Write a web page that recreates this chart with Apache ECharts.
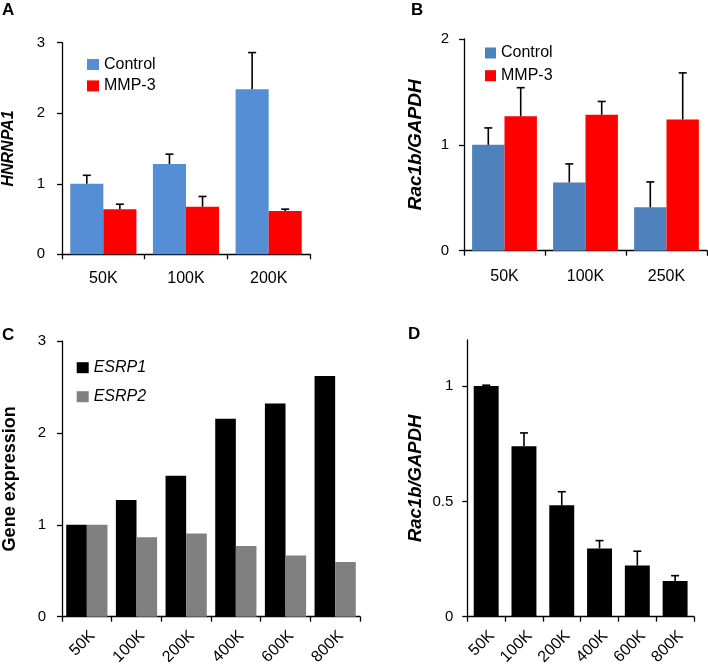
<!DOCTYPE html>
<html><head><meta charset="utf-8">
<script src="https://cdn.jsdelivr.net/npm/echarts@6/dist/echarts.min.js"></script>
<style>html,body{margin:0;padding:0;background:#fff}#c{width:708px;height:669px}</style>
</head><body><div id="c"></div>
<script>
// ---- Data ----
const catsA = ['50K', '100K', '200K'];
const ctrlA = [1.0, 1.28, 2.34];
const ctrlAErr = [1.12, 1.42, 2.86];
const mmpA = [0.64, 0.675, 0.615];
const mmpAErr = [0.71, 0.82, 0.64];
const yTicksA = [0, 1, 2, 3];

const catsB = ['50K', '100K', '250K'];
const ctrlB = [1.0, 0.645, 0.41];
const ctrlBErr = [1.16, 0.82, 0.65];
const mmpB = [1.27, 1.285, 1.24];
const mmpBErr = [1.54, 1.41, 1.68];
const yTicksB = [0, 1, 2];

const catsC = ['50K', '100K', '200K', '400K', '600K', '800K'];
const esrp1 = [1.0, 1.27, 1.535, 2.155, 2.32, 2.62];
const esrp2 = [1.0, 0.865, 0.905, 0.77, 0.665, 0.595];
const yTicksC = [0, 1, 2, 3];

const catsD = ['50K', '100K', '200K', '400K', '600K', '800K'];
const rac1bD = [1.0, 0.739, 0.483, 0.296, 0.222, 0.155];
const rac1bDErr = [1.004, 0.797, 0.542, 0.330, 0.284, 0.178];
const yTicksD = [0, 0.5, 1];
const yMaxD = 1.2;

// ---- Styles ----
const FF = '"Liberation Sans", Arial, sans-serif';
const axisLine = { show: true, lineStyle: { color: '#000', width: 1.3 } };
const axisTick = { show: true, length: 5, lineStyle: { color: '#000', width: 1.3 } };

function errSeries(idx, vals, errs, offsetFrac) {
  return {
    type: 'custom', xAxisIndex: idx, yAxisIndex: idx, z: 10, silent: true,
    data: vals.map((v, i) => [i, v, errs[i]]),
    encode: { x: 0, y: [1, 2] },
    renderItem: (params, api) => {
      const i = api.value(0);
      const base = api.coord([i, api.value(1)]);
      const top = api.coord([i, api.value(2)]);
      const cw = api.size([1, 0])[0];
      const x = base[0] + cw * offsetFrac;
      const hw = 4;
      const st = { stroke: '#000', lineWidth: 1.6 };
      return { type: 'group', children: [
        { type: 'line', shape: { x1: x, y1: base[1], x2: x, y2: top[1] }, style: st },
        { type: 'line', shape: { x1: x - hw, y1: top[1], x2: x + hw, y2: top[1] }, style: st }
      ] };
    }
  };
}

function xAx(idx, cats, extra) {
  return Object.assign({
    type: 'category', gridIndex: idx, data: cats,
    axisLine, axisTick,
    axisLabel: { fontFamily: FF, fontSize: 16, color: '#000', margin: 16 }
  }, extra || {});
}
function yAx(idx, ticks, name, nameStyle, nameGap, margin, extra) {
  return Object.assign({
    type: 'value', gridIndex: idx,
    min: ticks[0], max: ticks[ticks.length - 1], interval: ticks[1] - ticks[0],
    axisLine, axisTick, splitLine: { show: false },
    axisLabel: { fontFamily: FF, fontSize: 15, color: '#000', margin: margin },
    name: name, nameLocation: 'middle', nameRotate: 90, nameGap: nameGap,
    nameTextStyle: Object.assign({ fontFamily: FF, color: '#000', fontWeight: 'bold' }, nameStyle)
  }, extra || {});
}

const legendText = { fontFamily: FF, fontSize: 16, color: '#000' };
const rotLabel = { fontFamily: FF, fontSize: 16, color: '#000', margin: 11, rotate: 45, interval: 0, verticalAlign: 'top' };

const option = {
  animation: false,
  backgroundColor: '#fff',
  grid: [
    { left: 62, top: 42.7, width: 248, height: 211.6 },
    { left: 464, top: 39, width: 243, height: 211.7 },
    { left: 60, top: 341, width: 300, height: 275.7 },
    { left: 467.3, top: 340, width: 226.7, height: 276.7 }
  ],
  xAxis: [
    xAx(0, catsA),
    xAx(1, catsB, { axisLabel: { fontFamily: FF, fontSize: 16, color: '#000', margin: 18 } }),
    xAx(2, catsC, { axisLabel: rotLabel }),
    xAx(3, catsD, { axisLabel: rotLabel })
  ],
  yAxis: [
    yAx(0, yTicksA, 'HNRNPA1', { fontStyle: 'italic', fontSize: 16 }, 45, 17),
    yAx(1, yTicksB, 'Rac1b/GAPDH', { fontStyle: 'italic', fontSize: 19 }, 39, 15),
    yAx(2, yTicksC, 'Gene expression', { fontSize: 18 }, 43, 16),
    yAx(3, yTicksD, 'Rac1b/GAPDH', { fontStyle: 'italic', fontSize: 18.5 }, 42, 14,
      { max: yMaxD, axisLabel: { fontFamily: FF, fontSize: 15, color: '#000', margin: 14, showMaxLabel: false } })
  ],
  legend: [
    { orient: 'vertical', left: 82, top: 51.5, itemWidth: 12, itemHeight: 11, itemGap: 5.4, icon: 'rect',
      textStyle: legendText, selectedMode: false,
      data: [{ name: 'Control', itemStyle: { color: '#558ED5' } }, { name: 'MMP-3', itemStyle: { color: '#FF0000' } }] },
    { orient: 'vertical', left: 480, top: 40, itemWidth: 11, itemHeight: 11, itemGap: 6.7, icon: 'rect',
      textStyle: legendText, selectedMode: false,
      data: [{ name: 'Control', itemStyle: { color: '#4F81BD' } }, { name: 'MMP-3', itemStyle: { color: '#FF0000' } }] },
    { orient: 'vertical', left: 71.7, top: 354.7, itemWidth: 12, itemHeight: 11, itemGap: 13, icon: 'rect',
      textStyle: Object.assign({ fontStyle: 'italic' }, legendText), selectedMode: false,
      data: [{ name: 'ESRP1', itemStyle: { color: '#000' } }, { name: 'ESRP2', itemStyle: { color: '#808080' } }] }
  ],
  graphic: [
    { type: 'text', left: 2, top: 2, style: { text: 'A', font: 'bold 17px ' + FF, fill: '#000' } },
    { type: 'text', left: 411, top: 2, style: { text: 'B', font: 'bold 17px ' + FF, fill: '#000' } },
    { type: 'text', left: 2, top: 327, style: { text: 'C', font: 'bold 17px ' + FF, fill: '#000' } },
    { type: 'text', left: 408, top: 326, style: { text: 'D', font: 'bold 17px ' + FF, fill: '#000' } }
  ],
  series: [
    { name: 'Control', type: 'bar', xAxisIndex: 0, yAxisIndex: 0, data: ctrlA, barGap: '0%', barCategoryGap: '20%', itemStyle: { color: '#558ED5' } },
    { name: 'MMP-3', type: 'bar', xAxisIndex: 0, yAxisIndex: 0, data: mmpA, barGap: '0%', barCategoryGap: '20%', itemStyle: { color: '#FF0000' } },
    errSeries(0, ctrlA, ctrlAErr, -0.2),
    errSeries(0, mmpA, mmpAErr, 0.2),

    { name: 'Control', type: 'bar', xAxisIndex: 1, yAxisIndex: 1, data: ctrlB, barGap: '0%', barCategoryGap: '20%', itemStyle: { color: '#4F81BD' } },
    { name: 'MMP-3', type: 'bar', xAxisIndex: 1, yAxisIndex: 1, data: mmpB, barGap: '0%', barCategoryGap: '20%', itemStyle: { color: '#FF0000' } },
    errSeries(1, ctrlB, ctrlBErr, -0.2),
    errSeries(1, mmpB, mmpBErr, 0.2),

    { name: 'ESRP1', type: 'bar', xAxisIndex: 2, yAxisIndex: 2, data: esrp1, barGap: '0%', barCategoryGap: '17%', itemStyle: { color: '#000' } },
    { name: 'ESRP2', type: 'bar', xAxisIndex: 2, yAxisIndex: 2, data: esrp2, barGap: '0%', barCategoryGap: '17%', itemStyle: { color: '#808080' } },

    { name: 'Rac1b', type: 'bar', xAxisIndex: 3, yAxisIndex: 3, data: rac1bD, barCategoryGap: '34%', itemStyle: { color: '#000' } },
    errSeries(3, rac1bD, rac1bDErr, 0)
  ]
};

const chart = echarts.init(document.getElementById('c'), null, { renderer: 'canvas' });
chart.setOption(option);
</script>
</body></html>
